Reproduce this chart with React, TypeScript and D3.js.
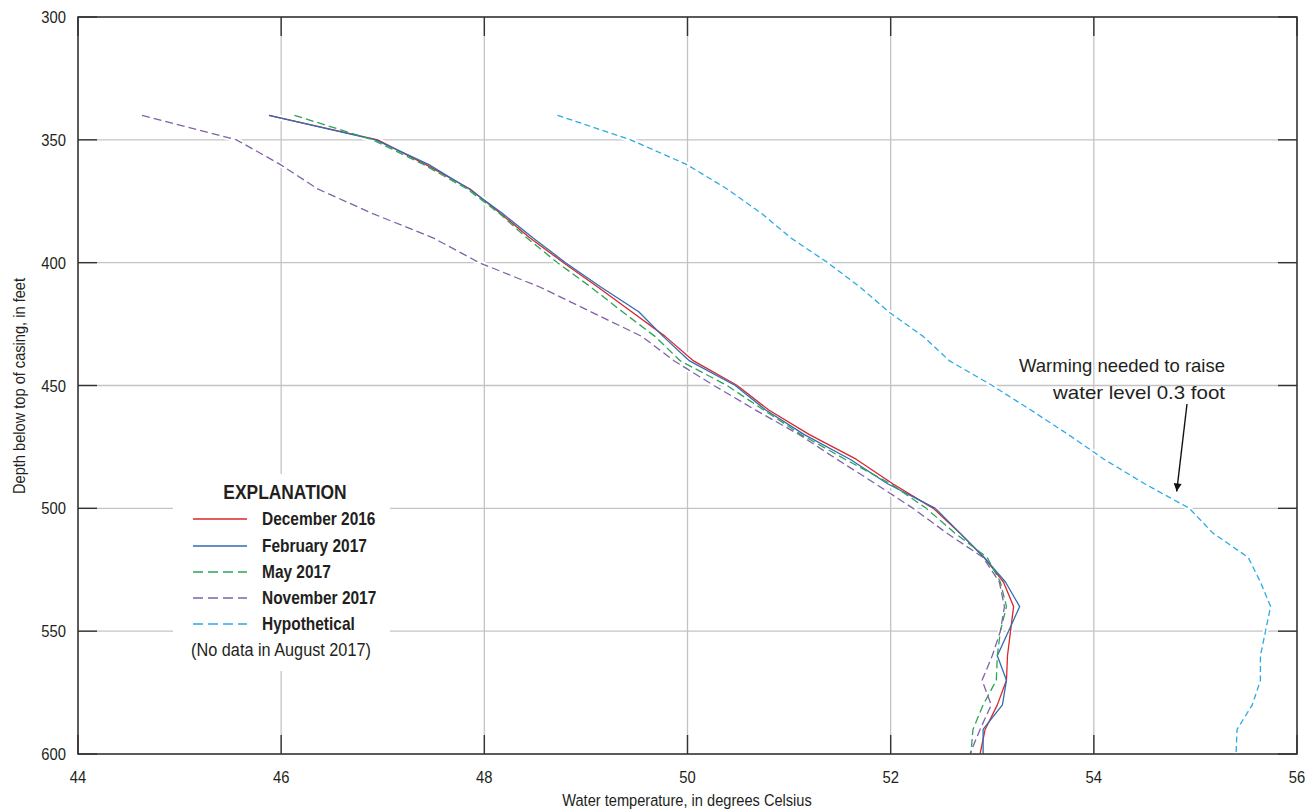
import React from "react";
import * as d3 from "d3";

// Depths of the temperature readings, in feet below top of casing
const depths = [
  340, 350, 360, 370, 380, 390, 400, 410, 420, 430, 440, 450, 460, 470,
  480, 490, 500, 510, 520, 530, 540, 550, 560, 570, 580, 590, 600,
];

// Water temperature profiles, degrees Celsius
const december2016 = [
  45.88, 46.95, 47.42, 47.86, 48.16, 48.45, 48.78, 49.12, 49.45, 49.78, 50.06,
  50.49, 50.8, 51.2, 51.66, 52.02, 52.42, 52.68, 52.92, 53.11, 53.21, 53.18,
  53.15, 53.14, 53.05, 52.93, 52.88,
];
const february2017 = [
  45.88, 46.93, 47.45, 47.85, 48.18, 48.48, 48.8, 49.15, 49.52, 49.76, 50.02,
  50.47, 50.77, 51.15, 51.6, 51.97, 52.44, 52.68, 52.92, 53.13, 53.27, 53.16,
  53.05, 53.14, 53.1, 52.91, 52.91,
];
const may2017 = [
  46.13, 46.9, 47.4, 47.83, 48.15, 48.42, 48.72, 49.05, 49.36, 49.68, 49.93,
  50.39, 50.75, 51.12, 51.55, 52.0, 52.35, 52.63, 52.95, 53.08, 53.14, 53.08,
  53.05, 53.04, 52.91, 52.81, 52.79,
];
const november2017 = [
  44.63, 45.56, 45.99, 46.36, 46.9, 47.5, 47.95, 48.55, 49.05, 49.55, 49.87,
  50.26, 50.67, 51.1, 51.47, 51.85, 52.22, 52.55, 52.91, 53.07, 53.12, 53.08,
  53.0, 52.9, 52.99, 52.88, 52.78,
];
const hypothetical = [
  48.72, 49.44, 49.99, 50.39, 50.73, 51.02, 51.38, 51.7, 51.98, 52.32, 52.58,
  53.0, 53.38, 53.75, 54.1, 54.5, 54.94, 55.17, 55.52, 55.64, 55.74, 55.69,
  55.64, 55.64, 55.56, 55.41, 55.4,
];

const seriesNames = [
  "December 2016",
  "February 2017",
  "May 2017",
  "November 2017",
  "Hypothetical",
];

const xTicks = [44, 46, 48, 50, 52, 54, 56];
const yTicks = [300, 350, 400, 450, 500, 550, 600];

const FONT = "'Liberation Sans', Arial, 'Noto Sans', sans-serif";
const INK = "#231f20";

// Condensed-looking text: regular sans squeezed horizontally
function Label(props: {
  x: number;
  y: number;
  size: number;
  sx?: number;
  anchor?: "start" | "middle" | "end";
  bold?: boolean;
  children: React.ReactNode;
}) {
  const { x, y, size, sx = 0.87, anchor = "start", bold = false } = props;
  return (
    <text
      transform={`translate(${x},${y}) scale(${sx},1)`}
      textAnchor={anchor}
      fontSize={size}
      fontWeight={bold ? "bold" : "normal"}
      fill={INK}
    >
      {props.children}
    </text>
  );
}

export default function App() {
  const left = 78;
  const right = 1297;
  const top = 17;
  const bottom = 754;

  const x = d3.scaleLinear().domain([44, 56]).range([left, right]);
  const y = d3.scaleLinear().domain([300, 600]).range([top, bottom]);

  const series = [
    { name: seriesNames[0], values: december2016, color: "#d9262b", dash: "" },
    { name: seriesNames[1], values: february2017, color: "#2f6db5", dash: "" },
    { name: seriesNames[2], values: may2017, color: "#2aa657", dash: "8,4" },
    { name: seriesNames[3], values: november2017, color: "#8062a8", dash: "8,4" },
    { name: seriesNames[4], values: hypothetical, color: "#2aaae2", dash: "6,3.5" },
  ];

  const lineFor = (values: number[]) =>
    d3
      .line<number>()
      .x((v) => x(v))
      .y((_, i) => y(depths[i]))(values) || "";

  const tickLen = 19;
  const legendX = 193;
  const legendRows = [519, 546, 572, 598, 624];

  return (
    <svg
      width={1314}
      height={812}
      style={{ position: "absolute", left: 0, top: 0, background: "#fff" }}
      fontFamily={FONT}
    >
      {/* grid */}
      {xTicks.map((t) => (
        <line
          key={"gx" + t}
          x1={x(t)}
          x2={x(t)}
          y1={top}
          y2={bottom}
          stroke="#c4c4c4"
          strokeWidth={1.3}
        />
      ))}
      {yTicks.map((t) => (
        <line
          key={"gy" + t}
          x1={left}
          x2={right}
          y1={y(t)}
          y2={y(t)}
          stroke="#c4c4c4"
          strokeWidth={1.3}
        />
      ))}

      {/* legend backing */}
      <rect x={173} y={474} width={217} height={197} fill="#fff" />

      {/* white casing under the profiles */}
      {series.map((s) => (
        <path
          key={"halo" + s.name}
          d={lineFor(s.values)}
          fill="none"
          stroke="#fff"
          strokeWidth={5}
          strokeLinejoin="round"
        />
      ))}
      {series.map((s) => (
        <path
          key={"line" + s.name}
          d={lineFor(s.values)}
          fill="none"
          stroke={s.color}
          strokeWidth={1.3}
          strokeDasharray={s.dash || undefined}
          strokeLinejoin="round"
        />
      ))}

      {/* tick marks inside the frame */}
      {xTicks.map((t) => (
        <g key={"tx" + t}>
          <line x1={x(t)} x2={x(t)} y1={bottom} y2={bottom - tickLen} stroke="#333" strokeWidth={1.4} />
          <line x1={x(t)} x2={x(t)} y1={top} y2={top + tickLen} stroke="#333" strokeWidth={1.4} />
        </g>
      ))}
      {yTicks.map((t) => (
        <g key={"ty" + t}>
          <line x1={left} x2={left + tickLen} y1={y(t)} y2={y(t)} stroke="#333" strokeWidth={1.4} />
          <line x1={right} x2={right - tickLen} y1={y(t)} y2={y(t)} stroke="#333" strokeWidth={1.4} />
        </g>
      ))}

      {/* frame */}
      <rect
        x={left}
        y={top}
        width={right - left}
        height={bottom - top}
        fill="none"
        stroke="#333"
        strokeWidth={1.5}
      />

      {/* tick labels */}
      {xTicks.map((t) => (
        <Label key={"lx" + t} x={x(t)} y={783} size={17} anchor="middle">
          {t}
        </Label>
      ))}
      {yTicks.map((t) => (
        <Label key={"ly" + t} x={66} y={y(t) + 6} size={17} anchor="end">
          {t}
        </Label>
      ))}

      {/* axis titles */}
      <Label x={687} y={806} size={17} sx={0.86} anchor="middle">
        Water temperature, in degrees Celsius
      </Label>
      <text
        transform="translate(25,386) rotate(-90) scale(0.86,1)"
        textAnchor="middle"
        fontSize={17}
        fill={INK}
      >
        Depth below top of casing, in feet
      </text>

      {/* legend */}
      <Label x={285} y={499} size={20} bold anchor="middle">
        EXPLANATION
      </Label>
      {series.map((s, i) => (
        <g key={"leg" + s.name}>
          <line
            x1={legendX}
            x2={legendX + 54}
            y1={legendRows[i]}
            y2={legendRows[i]}
            stroke={s.color}
            strokeWidth={1.5}
            strokeDasharray={s.dash ? "10,5" : undefined}
          />
          <Label x={262} y={legendRows[i] + 6} size={18} sx={0.86} bold>
            {s.name}
          </Label>
        </g>
      ))}
      <Label x={281} y={656} size={17.5} sx={0.93} anchor="middle">
        (No data in August 2017)
      </Label>

      {/* annotation */}
      <text
        x={1225}
        y={372}
        textAnchor="end"
        fontSize={18.5}
        fill={INK}
        textLength={206}
        lengthAdjust="spacingAndGlyphs"
      >
        Warming needed to raise
      </text>
      <text
        x={1225}
        y={399}
        textAnchor="end"
        fontSize={18.5}
        fill={INK}
        textLength={172}
        lengthAdjust="spacingAndGlyphs"
      >
        water level 0.3 foot
      </text>
      <defs>
        <marker
          id="arrowHead"
          viewBox="0 0 10 10"
          refX={10}
          refY={5}
          markerWidth={10}
          markerHeight={8}
          markerUnits="userSpaceOnUse"
          orient="auto"
        >
          <path d="M0,0 L10,5 L0,10 Z" fill="#111" />
        </marker>
      </defs>
      <line
        x1={1187}
        x2={1176.7}
        y1={404}
        y2={491.5}
        stroke="#111"
        strokeWidth={1.4}
        markerEnd="url(#arrowHead)"
      />
    </svg>
  );
}
